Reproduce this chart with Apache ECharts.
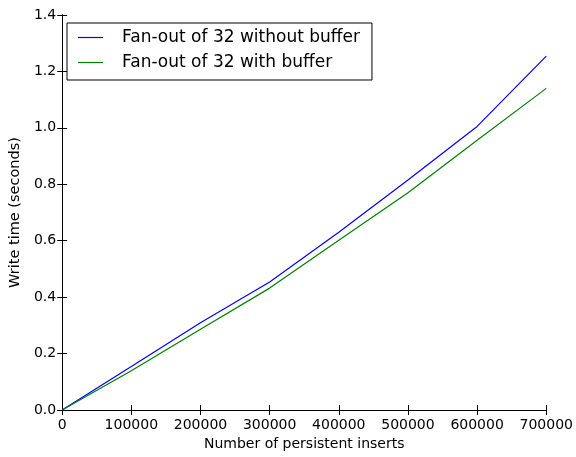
<!DOCTYPE html>
<html>
<head>
<meta charset="utf-8">
<script src="https://cdn.jsdelivr.net/npm/echarts@6/dist/echarts.min.js"></script>
<style>html,body{margin:0;padding:0;background:#fff}#c{width:576px;height:457px}</style>
</head>
<body>
<div id="c"></div>
<script>
var inserts = [0, 100000, 200000, 300000, 400000, 500000, 600000, 700000];
var withoutBuffer = [0, 0.154, 0.309, 0.454, 0.630, 0.815, 1.005, 1.254];
var withBuffer = [0, 0.139, 0.286, 0.432, 0.602, 0.770, 0.956, 1.140];
var seriesNames = ['Fan-out of 32 without buffer', 'Fan-out of 32 with buffer'];

function pairs(xs, ys) { return xs.map(function (x, i) { return [x, ys[i]]; }); }

var font = 'DejaVu Sans';
var chart = echarts.init(document.getElementById('c'), null, {renderer: 'canvas'});
var axisLine = {show: true, lineStyle: {color: '#000', width: 1}};
var tick = {show: true, inside: true, length: 5, lineStyle: {color: '#000', width: 1}};
chart.setOption({
  animation: false,
  backgroundColor: '#fff',
  grid: {left: 58, right: 28, top: 15, bottom: 47, containLabel: false},
  legend: {
    orient: 'vertical', left: 67, top: 23,
    data: seriesNames.map(function (n) { return {name: n, icon: 'rect'}; }),
    itemWidth: 25, itemHeight: 1.2, itemGap: 8,
    padding: [6, 12, 9, 11],
    borderColor: '#000', borderWidth: 1,
    textStyle: {fontFamily: font, fontSize: 17, color: '#000', padding: [0, 0, 0, 14]}
  },
  xAxis: [{
    type: 'value', min: 0, max: 700000, interval: 100000,
    name: 'Number of persistent inserts', nameLocation: 'middle', nameGap: 24,
    nameTextStyle: {fontFamily: font, fontSize: 14, color: '#000'},
    axisLine: axisLine, axisTick: tick, splitLine: {show: false},
    axisLabel: {fontFamily: font, fontSize: 14, color: '#000', margin: 8, formatter: function (v) { return String(v); }}
  }, {
    type: 'value', min: 0, max: 700000, interval: 100000, position: 'top',
    axisLine: axisLine, axisTick: tick, splitLine: {show: false}, axisLabel: {show: false}
  }],
  yAxis: [{
    type: 'value', min: 0, max: 1.4, interval: 0.2,
    name: 'Write time (seconds)', nameLocation: 'middle', nameGap: 38,
    nameTextStyle: {fontFamily: font, fontSize: 14.5, color: '#000'},
    axisLine: axisLine, axisTick: tick, splitLine: {show: false},
    axisLabel: {fontFamily: font, fontSize: 14, color: '#000', margin: 6, formatter: function (v) { return v.toFixed(1); }}
  }, {
    type: 'value', min: 0, max: 1.4, interval: 0.2, position: 'right',
    axisLine: axisLine, axisTick: tick, splitLine: {show: false}, axisLabel: {show: false}
  }],
  series: [{
    name: seriesNames[0], type: 'line', symbol: 'none', showSymbol: false,
    data: pairs(inserts, withoutBuffer),
    lineStyle: {color: '#0000ff', width: 1.2}, itemStyle: {color: '#0000ff'}
  }, {
    name: seriesNames[1], type: 'line', symbol: 'none', showSymbol: false,
    data: pairs(inserts, withBuffer),
    lineStyle: {color: '#008000', width: 1.2}, itemStyle: {color: '#008000'}
  }]
});
</script>
</body>
</html>
